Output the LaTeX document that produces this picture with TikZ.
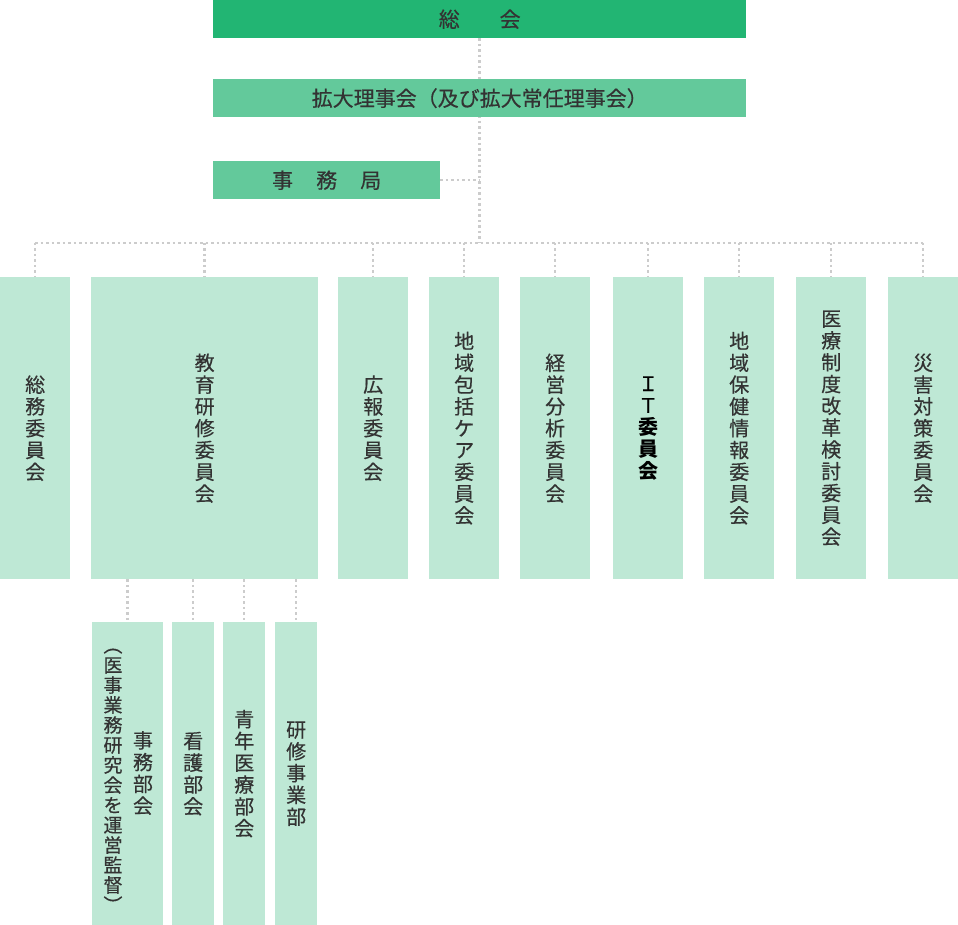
\documentclass[tikz,border=0pt]{standalone}
\usepackage{fontspec}
\newfontfamily\cjk{Noto Sans CJK JP}[UprightFeatures={FakeBold=0.4}]
\usetikzlibrary{positioning,backgrounds}
\definecolor{sokai}{RGB}{34,181,115}
\definecolor{rijikai}{RGB}{99,201,155}
\definecolor{iinkai}{RGB}{190,232,213}
\definecolor{moji}{RGB}{51,51,51}
\definecolor{tensen}{RGB}{204,204,204}

\begin{document}
\begin{tikzpicture}[x=1pt,y=-1pt,
  bar/.style={inner sep=0pt,anchor=north west,minimum height=38pt,font=\cjk\fontsize{21}{22}\selectfont,text=moji},
  tate/.style={inner sep=0pt,anchor=north west,minimum width=70pt,minimum height=302pt,fill=iinkai,align=center,font=\cjk\fontsize{20}{21.8}\selectfont,text=moji},
  bukai/.style={tate,minimum width=42pt,minimum height=303pt},
  line/.style={draw=tensen,line width=2.5pt,dash pattern=on 2.5pt off 3pt}]
\useasboundingbox (0,0) rectangle (958,925);

\node[bar,fill=sokai,minimum width=533pt] (sokai) at (213,0) {総\hspace{1.9em}会};
\node[bar,fill=rijikai,minimum width=533pt] (rijikai) at (213,79) {拡大理事会（及び拡大常任理事会）};
\node[bar,fill=rijikai,minimum width=227pt] (jimukyoku) at (213,161) {事\hspace{1.1em}務\hspace{1.1em}局};

\coordinate (bunki) at (sokai.south |- 0,243);

% iinkai
\node[tate] (somu) at (0,277) {総\\務\\委\\員\\会};
\node[tate,minimum width=227pt] (kyoiku) at (91,277) {教\\育\\研\\修\\委\\員\\会};
\node[tate] (koho) at (338,277) {広\\報\\委\\員\\会};
\node[tate] (chiiki) at (429,277) {地\\域\\包\\括\\ケ\\ア\\委\\員\\会};
\node[tate] (keiei) at (520,277) {経\\営\\分\\析\\委\\員\\会};
\node[tate,text=black] (it) at (613,277) {Ｉ\\Ｔ\\\textbf{委}\\\textbf{員}\\\textbf{会}};
\node[tate] (hoken) at (704,277) {地\\域\\保\\健\\情\\報\\委\\員\\会};
\node[tate] (seido) at (796,277) {医\\療\\制\\度\\改\\革\\検\\討\\委\\員\\会};
\node[tate] (saigai) at (888,277) {災\\害\\対\\策\\委\\員\\会};

% bukai
\node[bukai,minimum width=71pt] (jimu) at (92,622) {};
\node[bukai] (kango) at (172,622) {看\\護\\部\\会};
\node[bukai] (seinen) at (223,622) {青\\年\\医\\療\\部\\会};
\node[bukai] (kenshu) at (275,622) {研\\修\\事\\業\\部};
\node[tate,fill=none,minimum width=0pt,minimum height=0pt,anchor=center,font=\cjk\fontsize{19}{20}\selectfont] (jimu-l) at (113,775) {\rotatebox[origin=c]{-90}{（}\\医\\事\\業\\務\\研\\究\\会\\を\\運\\営\\監\\督\\\rotatebox[origin=c]{-90}{）}};
\node[tate,fill=none,minimum width=0pt,minimum height=0pt,anchor=center] (jimu-r) at (143,773) {事\\務\\部\\会};

\begin{scope}[on background layer]
\draw[line] (sokai.south) -- (bunki);
\draw[line] (jimukyoku.east) -- (jimukyoku.east -| bunki);
\draw[line] (somu.north |- bunki) -- (saigai.north |- bunki);
\foreach \name in {somu,kyoiku,koho,chiiki,keiei,it,hoken,seido,saigai} {
\draw[line] (\name.north |- bunki) -- (\name.north);
}
\foreach \name in {jimu,kango,seinen,kenshu} {
\draw[line] (\name.north |- kyoiku.south) -- (\name.north);
}
\end{scope}
\end{tikzpicture}
\end{document}
